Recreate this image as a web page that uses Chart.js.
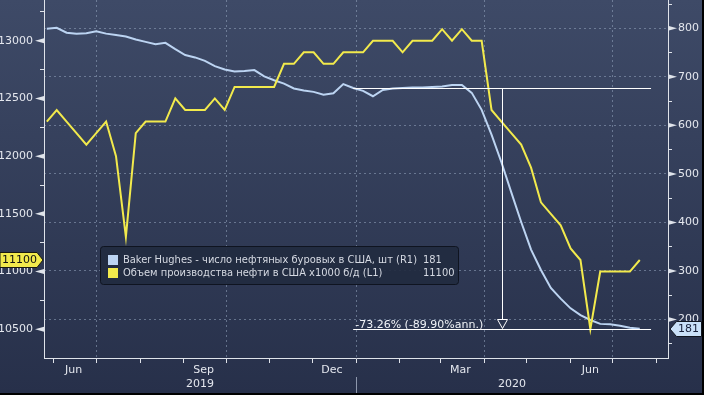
<!DOCTYPE html>
<html>
<head>
<meta charset="utf-8">
<script src="https://cdn.jsdelivr.net/npm/chart.js@4.4.0/dist/chart.umd.min.js"></script>
<style>
  html, body { margin: 0; padding: 0; background: #000; }
  #wrap { position: absolute; left: 0; top: 0; width: 702px; height: 393px; }
</style>
</head>
<body>
<div id="wrap"><canvas id="chart" width="702" height="393"></canvas></div>
<script>
// Weekly points
const weeks = [
  '2019-05-27', '2019-06-03', '2019-06-10', '2019-06-17', '2019-06-24', '2019-07-01', '2019-07-08', '2019-07-15',
  '2019-07-22', '2019-07-29', '2019-08-05', '2019-08-12', '2019-08-19', '2019-08-26', '2019-09-02', '2019-09-09',
  '2019-09-16', '2019-09-23', '2019-09-30', '2019-10-07', '2019-10-14', '2019-10-21', '2019-10-28', '2019-11-04',
  '2019-11-11', '2019-11-18', '2019-11-25', '2019-12-02', '2019-12-09', '2019-12-16', '2019-12-23', '2019-12-30',
  '2020-01-06', '2020-01-13', '2020-01-20', '2020-01-27', '2020-02-03', '2020-02-10', '2020-02-17', '2020-02-24',
  '2020-03-02', '2020-03-09', '2020-03-16', '2020-03-23', '2020-03-30', '2020-04-06', '2020-04-13', '2020-04-20',
  '2020-04-27', '2020-05-04', '2020-05-11', '2020-05-18', '2020-05-25', '2020-06-01', '2020-06-08', '2020-06-15',
  '2020-06-22', '2020-06-29', '2020-07-06', '2020-07-13', '2020-07-20'
];

// Baker Hughes oil rigs (right axis)
const rigs = [
  799, 801, 791, 789, 790, 794, 789, 786, 783, 777, 772, 767, 770, 757, 745, 740,
  733, 722, 715, 711, 712, 714, 701, 693, 686, 676, 672, 669, 663, 666, 685, 677,
  671, 660, 673, 676, 677, 678, 678, 679, 680, 683, 683, 667, 632, 581, 524, 462,
  401, 344, 302, 265, 243, 223, 209, 199, 191, 190, 187, 183, 181
];

// US crude output, kb/d (left axis)
const output = [
  12300, 12400, 12300, 12200, 12100, 12200, 12300, 12000, 11300, 12200, 12300, 12300, 12300, 12500, 12400, 12400,
  12400, 12500, 12400, 12600, 12600, 12600, 12600, 12600, 12800, 12800, 12900, 12900, 12800, 12800, 12900, 12900,
  12900, 13000, 13000, 13000, 12900, 13000, 13000, 13000, 13100, 13000, 13100, 13000, 13000, 12400, 12300, 12200,
  12100, 11900, 11600, 11500, 11400, 11200, 11100, 10500, 11000, 11000, 11000, 11000, 11100
];

const seriesNames = [
  'Baker Hughes - число нефтяных буровых в США, шт (R1)',
  'Объем производства нефти в США x1000 б/д (L1)'
];

// x axis
const xFrom = '2019-05-25';
const xTo = '2020-08-09';
const monthStarts = [
  '2019-06-01', '2019-07-01', '2019-08-01', '2019-09-01', '2019-10-01', '2019-11-01', '2019-12-01', '2020-01-01',
  '2020-02-01', '2020-03-01', '2020-04-01', '2020-05-01', '2020-06-01', '2020-07-01', '2020-08-01'
];
const quarterStarts = ['2019-07-01', '2019-10-01', '2020-01-01', '2020-04-01', '2020-07-01'];
const monthLabelDates = ['2019-06-15', '2019-09-15', '2019-12-15', '2020-03-15', '2020-06-15'];
const monthLabelNames = ['Jun', 'Sep', 'Dec', 'Mar', 'Jun'];
const yearNames = ['2019', '2020'];
const yearStarts = ['2019-01-01', '2020-01-01', '2021-01-01'];

// y axes
const leftMin = 10251, leftMax = 13353, leftStep = 250, leftLabelStep = 500;
const rightMin = 120.7, rightMax = 858.3, rightStep = 50, rightLabelStep = 100;

// measurement: from week 31 to end
const measureFrom = 31;
const measureTo = '2020-07-28';
const measureLabel = '-73.26% (-89.90%ann.)';

const dayOf = s => (Date.parse(s) - Date.parse(weeks[0])) / 86400000;

const BLUE = '#bcd4f2';
const YELLOW = '#f2ea4c';
const TEXT = '#e4e7ee';
const GRID = 'rgba(150,166,192,0.55)';
const AXIS = '#dfe3ea';
const FONT = '"DejaVu Sans", sans-serif';

const quarterDays = quarterStarts.map(dayOf);
const monthDays = monthStarts.map(dayOf);
const labelDays = monthLabelDates.map(dayOf);

function stepTicks(min, max, step) {
  const out = [];
  for (let v = Math.ceil(min / step) * step; v <= max; v += step) out.push({ value: v });
  return out;
}

const bgPlugin = {
  id: 'bg',
  beforeDraw(chart) {
    const { ctx, width, height } = chart;
    const g = ctx.createLinearGradient(0, 0, 0, height);
    g.addColorStop(0, '#3e4a67');
    g.addColorStop(1, '#27304a');
    ctx.save();
    ctx.fillStyle = g;
    ctx.fillRect(0, 0, width, height);
    ctx.restore();
  }
};

const overlayPlugin = {
  id: 'overlay',
  afterDraw(chart) {
    const { ctx, scales } = chart;
    const xs = scales.x, yl = scales.y, yr = scales.y1;
    ctx.save();

    // tick arrows on major ticks
    ctx.fillStyle = AXIS;
    [[yl, leftLabelStep, -1], [yr, rightLabelStep, 1]].forEach(([s, step, dir]) => {
      const x0 = dir < 0 ? s.right : s.left;
      s.ticks.forEach(t => {
        if (t.value % step) return;
        const y = s.getPixelForValue(t.value);
        ctx.beginPath();
        ctx.moveTo(x0, y - 2.5);
        ctx.lineTo(x0 + dir * 9, y);
        ctx.lineTo(x0, y + 2.5);
        ctx.closePath();
        ctx.fill();
      });
    });

    // measurement lines
    const last = rigs.length - 1;
    const x1 = xs.getPixelForValue(dayOf(weeks[measureFrom]));
    const x2 = xs.getPixelForValue(dayOf(measureTo));
    const yTop = Math.round(yr.getPixelForValue(rigs[measureFrom])) + 0.5;
    const yBot = Math.round(yr.getPixelForValue(rigs[last])) + 0.5;
    const xm = Math.round((x1 + x2) / 2) + 0.5;
    ctx.strokeStyle = '#ffffff';
    ctx.lineWidth = 1;
    ctx.beginPath();
    ctx.moveTo(x1, yTop); ctx.lineTo(x2, yTop);
    ctx.moveTo(x1, yBot); ctx.lineTo(x2, yBot);
    ctx.moveTo(xm, yTop); ctx.lineTo(xm, yBot - 10);
    ctx.moveTo(xm - 5, yBot - 10); ctx.lineTo(xm + 5, yBot - 10); ctx.lineTo(xm, yBot - 1); ctx.closePath();
    ctx.stroke();
    ctx.fillStyle = '#f2f4f8';
    ctx.font = '11px ' + FONT;
    ctx.textAlign = 'left';
    ctx.textBaseline = 'alphabetic';
    ctx.fillText(measureLabel, x1 + 2, yBot - 2);

    // legend
    const lx = 100.5, ly = 246.5, lw = 358, lh = 38;
    ctx.beginPath();
    ctx.roundRect(lx, ly, lw, lh, 3);
    ctx.fillStyle = 'rgba(34,43,64,0.92)';
    ctx.fill();
    ctx.strokeStyle = '#0f1420';
    ctx.stroke();
    ctx.font = '10px ' + FONT;
    ctx.textBaseline = 'middle';
    const squeeze = 294 / ctx.measureText(seriesNames[0]).width;
    [[BLUE, seriesNames[0], String(rigs[last])], [YELLOW, seriesNames[1], String(output[output.length - 1])]]
      .forEach(([c, name, val], k) => {
        const cy = 260 + k * 13;
        ctx.fillStyle = c;
        ctx.fillRect(108, cy - 5, 10, 10);
        ctx.fillStyle = '#d6dae3';
        ctx.fillText(name, 123, cy, ctx.measureText(name).width * squeeze);
        ctx.fillText(val, 423, cy, ctx.measureText(val).width * squeeze);
      });

    // value tags
    ctx.font = '11px ' + FONT;
    const cyL = Math.round(yl.getPixelForValue(output[output.length - 1]));
    ctx.beginPath();
    ctx.moveTo(0, cyL - 7.5); ctx.lineTo(37, cyL - 7.5); ctx.lineTo(43, cyL); ctx.lineTo(37, cyL + 7.5); ctx.lineTo(0, cyL + 7.5);
    ctx.closePath();
    ctx.fillStyle = YELLOW;
    ctx.fill();
    ctx.strokeStyle = '#1a1a10';
    ctx.stroke();
    ctx.fillStyle = '#111111';
    ctx.fillText(String(output[output.length - 1]), 2, cyL + 0.5);

    const cyR = Math.round(yr.getPixelForValue(rigs[last]));
    ctx.beginPath();
    ctx.moveTo(670, cyR); ctx.lineTo(676.5, cyR - 7.5); ctx.lineTo(701.5, cyR - 7.5); ctx.lineTo(701.5, cyR + 7.5); ctx.lineTo(676.5, cyR + 7.5);
    ctx.closePath();
    ctx.fillStyle = '#c9e0f8';
    ctx.fill();
    ctx.strokeStyle = '#10151f';
    ctx.stroke();
    ctx.fillStyle = '#18203a';
    ctx.fillText(String(rigs[last]), 678, cyR + 0.5);

    ctx.restore();
  }
};

Chart.defaults.font.family = FONT;
Chart.defaults.font.size = 11;
Chart.defaults.color = TEXT;

new Chart(document.getElementById('chart').getContext('2d'), {
  type: 'line',
  data: {
    datasets: [
      {
        label: seriesNames[0],
        data: weeks.map((w, i) => ({ x: dayOf(w), y: rigs[i] })),
        yAxisID: 'y1',
        borderColor: BLUE,
        borderWidth: 2,
        pointRadius: 0,
        tension: 0,
        order: 1,
      },
      {
        label: seriesNames[1],
        data: weeks.map((w, i) => ({ x: dayOf(w), y: output[i] })),
        yAxisID: 'y',
        borderColor: YELLOW,
        borderWidth: 2,
        pointRadius: 0,
        tension: 0,
        order: 0,
      },
    ],
  },
  options: {
    responsive: false,
    animation: false,
    devicePixelRatio: 1,
    layout: { padding: 0 },
    plugins: { legend: { display: false }, tooltip: { enabled: false } },
    scales: {
      x: {
        type: 'linear',
        min: dayOf(xFrom),
        max: dayOf(xTo),
        afterBuildTicks: s => {
          s.ticks = monthDays.concat(labelDays).sort((a, b) => a - b).map(v => ({ value: v }));
        },
        afterFit: s => { s.height = 19; s.paddingLeft = 0; s.paddingRight = 0; },
        ticks: {
          autoSkip: false,
          maxRotation: 0,
          padding: 1,
          callback: v => {
            const k = labelDays.indexOf(v);
            return k >= 0 ? monthLabelNames[k] : '';
          },
        },
        grid: {
          color: c => (c.tick && quarterDays.includes(c.tick.value) ? GRID : 'transparent'),
          tickColor: c => (c.tick && monthDays.includes(c.tick.value) ? AXIS : 'transparent'),
          tickLength: 5,
          lineWidth: 1,
        },
        border: { color: AXIS, width: 1, dash: [2, 3] },
      },
      x2: {
        type: 'linear',
        position: 'bottom',
        weight: 1,
        min: dayOf(xFrom),
        max: dayOf(xTo),
        afterBuildTicks: s => {
          const lo = s.min, hi = s.max;
          const mids = yearNames.map((y, k) => {
            const a = Math.max(lo, dayOf(yearStarts[k]));
            const b = Math.min(hi, dayOf(yearStarts[k + 1]));
            return (a + b) / 2;
          });
          s.ticks = [{ value: mids[0] }, { value: dayOf(yearStarts[1]) }, { value: mids[1] }];
        },
        afterFit: s => { s.height = 16; s.paddingLeft = 0; s.paddingRight = 0; },
        ticks: {
          autoSkip: false,
          maxRotation: 0,
          padding: -15,
          callback: (v, i) => [yearNames[0], '', yearNames[1]][i],
        },
        grid: {
          drawOnChartArea: false,
          tickLength: 16,
          tickColor: c => (c.index === 1 ? '#8d97ac' : 'transparent'),
        },
        border: { display: false },
      },
      y: {
        position: 'left',
        min: leftMin,
        max: leftMax,
        afterBuildTicks: s => { s.ticks = stepTicks(leftMin, leftMax, leftStep); },
        afterFit: s => { s.width = 44; s.paddingTop = 0; s.paddingBottom = 0; },
        ticks: {
          autoSkip: false,
          padding: 7,
          callback: v => (v % leftLabelStep === 0 ? String(v) : ''),
        },
        grid: { drawOnChartArea: false, tickLength: 4, tickColor: AXIS },
        border: { color: AXIS, width: 1 },
      },
      y1: {
        position: 'right',
        min: rightMin,
        max: rightMax,
        afterBuildTicks: s => { s.ticks = stepTicks(rightMin, rightMax, rightStep); },
        afterFit: s => { s.width = 34; s.paddingTop = 0; s.paddingBottom = 0; },
        ticks: {
          autoSkip: false,
          padding: 6,
          callback: v => (v % rightLabelStep === 0 ? String(v) : ''),
        },
        grid: {
          color: c => (c.tick && c.tick.value % rightLabelStep === 0 ? GRID : 'transparent'),
          tickLength: 4,
          tickColor: AXIS,
        },
        border: { color: AXIS, width: 1, dash: [2, 3] },
      },
    },
  },
  plugins: [bgPlugin, overlayPlugin],
});
</script>
</body>
</html>
